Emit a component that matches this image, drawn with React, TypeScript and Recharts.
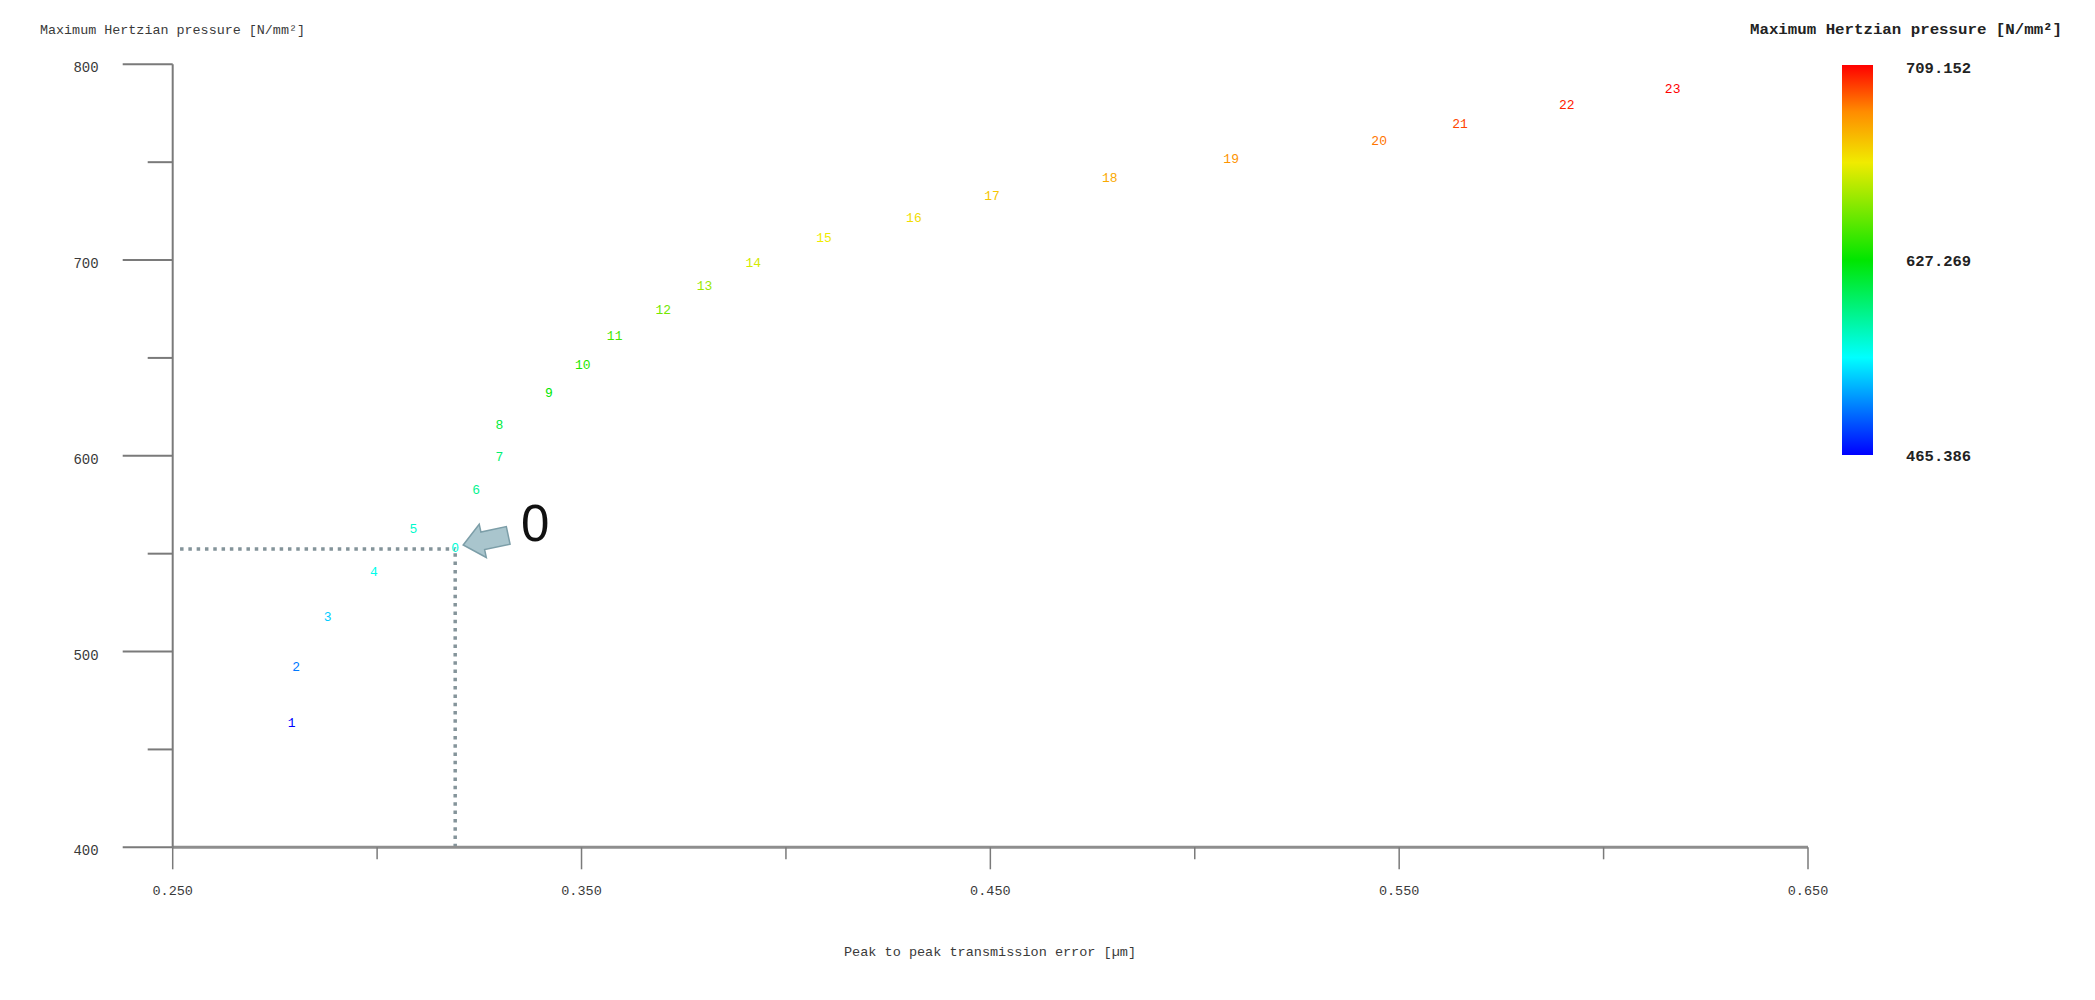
import React from "react";
import { ScatterChart, Scatter, XAxis, YAxis, ReferenceLine, ReferenceDot } from "recharts";

// ---- data ----
const pointLabels = ["1", "2", "3", "4", "5", "0", "6", "7", "8", "9", "10", "11", "12", "13", "14", "15", "16", "17", "18", "19", "20", "21", "22", "23"];
const transmissionError = [0.2791, 0.2802, 0.2879, 0.2992, 0.3089, 0.3191, 0.3242, 0.3299, 0.3299, 0.342, 0.3503, 0.3581, 0.37, 0.3801, 0.392, 0.4093, 0.4313, 0.4504, 0.4792, 0.5089, 0.5451, 0.5649, 0.591, 0.6169];
const hertzPressure = [463.3, 491.7, 517.5, 540.3, 562.1, 552.4, 582.2, 599.2, 615.7, 631.9, 645.9, 660.8, 674.1, 686.4, 698.3, 710.8, 721.3, 732.7, 741.8, 751.5, 760.8, 769.5, 779.2, 786.9];
// colour-scale value of each label
const colourValue = [465.4, 494.6, 514.1, 531.2, 538.5, 536.1, 553.1, 560.5, 572.6, 587.3, 594.6, 604.3, 616.5, 626.3, 640.9, 648.2, 653.1, 660.4, 670.2, 677.5, 684.8, 694.5, 701.9, 709.2];

const xTicks = [0.25, 0.3, 0.35, 0.4, 0.45, 0.5, 0.55, 0.6, 0.65];
const yTicks = [400, 450, 500, 550, 600, 650, 700, 750, 800];
const colourBarLabels = ["709.152", "627.269", "465.386"];
const colourMin = 465.386;
const colourMax = 709.152;

const designX = 0.3191;
const designY = 552.4;

const titleY = "Maximum Hertzian pressure [N/mm\u00b2]";
const titleLegend = "Maximum Hertzian pressure [N/mm\u00b2]";
const titleX = "Peak to peak transmission error [\u00b5m]";

// ---- helpers ----
const jetStops: [number, number, number, number][] = [
  [0, 0, 0, 255],
  [0.25, 0, 255, 255],
  [0.5, 0, 230, 0],
  [0.75, 240, 235, 0],
  [0.88, 255, 140, 0],
  [1, 255, 0, 0],
];
function jet(v: number): string {
  let f = (v - colourMin) / (colourMax - colourMin);
  f = Math.max(0, Math.min(1, f));
  for (let i = 1; i < jetStops.length; i++) {
    const a = jetStops[i - 1];
    const b = jetStops[i];
    if (f <= b[0]) {
      const t = (f - a[0]) / (b[0] - a[0]);
      const r = Math.round(a[1] + (b[1] - a[1]) * t);
      const g = Math.round(a[2] + (b[2] - a[2]) * t);
      const bl = Math.round(a[3] + (b[3] - a[3]) * t);
      return `rgb(${r},${g},${bl})`;
    }
  }
  return "rgb(255,0,0)";
}

const data = pointLabels.map((label, i) => ({
  x: transmissionError[i],
  y: hertzPressure[i],
  label,
  colour: jet(colourValue[i]),
}));

const MONO = "'Liberation Mono', 'DejaVu Sans Mono', monospace";
const AXIS_COLOR = "#7a7a7a";
const TEXT_COLOR = "#3a3a3a";

const XTick = (props: any) => {
  const { x, y, payload } = props;
  const v = payload.value as number;
  const major = Math.round(v * 100) % 10 === 5;
  return (
    <g>
      <line x1={x} y1={y} x2={x} y2={y + (major ? 22 : 12)} stroke={AXIS_COLOR} strokeWidth={1.5} />
      {major && (
        <text x={x} y={y + 44} textAnchor="middle" dominantBaseline="central" fontFamily={MONO} fontSize={13.5} fill={TEXT_COLOR}>
          {v.toFixed(3)}
        </text>
      )}
    </g>
  );
};

const YTick = (props: any) => {
  const { x, y, payload } = props;
  const v = payload.value as number;
  const major = v % 100 === 0;
  return (
    <g>
      <line x1={x - (major ? 50 : 25)} y1={y} x2={x} y2={y} stroke={AXIS_COLOR} strokeWidth={2} />
      {major && (
        <text x={x - 74} y={y + 4} textAnchor="end" dominantBaseline="central" fontFamily={MONO} fontSize={14} fill={TEXT_COLOR}>
          {v}
        </text>
      )}
    </g>
  );
};

const LabelShape = (props: any) => {
  const { cx, cy, payload } = props;
  return (
    <text x={cx} y={cy} textAnchor="middle" dominantBaseline="central" fontFamily={MONO} fontSize={13} fill={payload.colour}>
      {payload.label}
    </text>
  );
};

const ArrowShape = (props: any) => {
  const { cx, cy } = props;
  const pts = "0,0 20,-17 20,-9 46,-9 46,9 20,9 20,17";
  return (
    <g>
      <polygon
        points={pts}
        transform={`translate(${cx + 8},${cy - 4}) rotate(-12)`}
        fill="#a9c5cd"
        stroke="#7c9ea8"
        strokeWidth={1.5}
      />
      <text x={cx + 80} y={cy - 8} textAnchor="middle" fontFamily="'Liberation Sans', Arial, sans-serif" fontSize={51} fill="#111">
        0
      </text>
    </g>
  );
};

const W = 2079;
const H = 984;

export default function App() {
  return (
    <div style={{ position: "relative", width: W, height: H, background: "#fff" }}>
      <ScatterChart
        width={W}
        height={H}
        margin={{ top: 56.3, right: W - 1800, bottom: 84.7, left: 104.7 }}
      >
        <XAxis
          type="number"
          dataKey="x"
          domain={[0.25, 0.65]}
          ticks={xTicks}
          interval={0}
          height={60}
          tickSize={0}
          tickMargin={0}
          tickLine={false}
          axisLine={{ stroke: "#8e8e8e", strokeWidth: 3 }}
          tick={<XTick />}
        />
        <YAxis
          type="number"
          dataKey="y"
          domain={[400, 800]}
          ticks={yTicks}
          interval={0}
          width={60}
          tickSize={0}
          tickMargin={0}
          tickLine={false}
          axisLine={{ stroke: AXIS_COLOR, strokeWidth: 2 }}
          tick={<YTick />}
        />
        <ReferenceLine
          segment={[{ x: 0.2518, y: designY }, { x: designX, y: designY }]}
          stroke="#84949a"
          strokeWidth={3.5}
          strokeDasharray="3.5 4.8"
          ifOverflow="visible"
        />
        <ReferenceLine
          segment={[{ x: designX, y: 400 }, { x: designX, y: designY }]}
          stroke="#84949a"
          strokeWidth={3.5}
          strokeDasharray="3.5 4.8"
          ifOverflow="visible"
        />
        <Scatter data={data} isAnimationActive={false} shape={<LabelShape />} />
        <ReferenceDot x={designX} y={designY} ifOverflow="visible" shape={<ArrowShape />} />
      </ScatterChart>
      <svg width={W} height={H} style={{ position: "absolute", left: 0, top: 0, pointerEvents: "none" }}>
        <defs>
          <linearGradient id="jetbar" x1="0" y1="1" x2="0" y2="0">
            {jetStops.map((s, i) => (
              <stop key={i} offset={s[0]} stopColor={`rgb(${s[1]},${s[2]},${s[3]})`} />
            ))}
          </linearGradient>
        </defs>
        <text x={32} y={22} dominantBaseline="central" fontFamily={MONO} fontSize={13.4} fill={TEXT_COLOR} textLength={265} lengthAdjust="spacingAndGlyphs">
          {titleY}
        </text>
        <text x={1742} y={22} dominantBaseline="central" fontFamily={MONO} fontSize={15.5} fontWeight="bold" fill="#222" textLength={312} lengthAdjust="spacingAndGlyphs">
          {titleLegend}
        </text>
        <rect x={1834} y={57} width={31} height={390} fill="url(#jetbar)" />
        {colourBarLabels.map((t, i) => (
          <text key={t} x={1898} y={[61, 254, 449][i]} dominantBaseline="central" fontFamily={MONO} fontSize={15.5} fontWeight="bold" fill="#222">
            {t}
          </text>
        ))}
        <text x={982} y={944} textAnchor="middle" dominantBaseline="central" fontFamily={MONO} fontSize={13.5} fill={TEXT_COLOR} textLength={292} lengthAdjust="spacingAndGlyphs">
          {titleX}
        </text>
      </svg>
    </div>
  );
}
